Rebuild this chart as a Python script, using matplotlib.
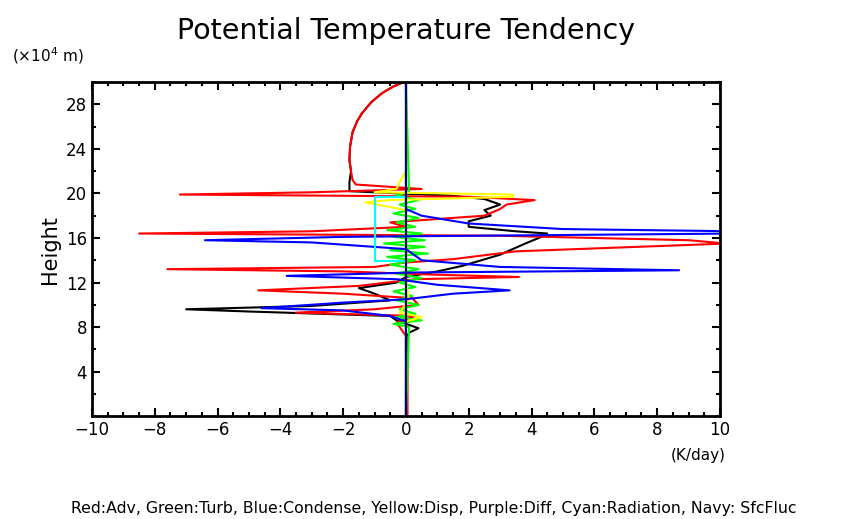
import matplotlib
matplotlib.use("Agg")
import matplotlib.pyplot as plt
from matplotlib.ticker import MultipleLocator

# heights (x10^4 m) and tendencies (K/day)
red_h = [0, 7, 8.4, 9.0, 9.3, 9.6, 10.0, 10.6, 11.0, 11.3, 11.7, 12.3, 12.5, 12.7, 13.0, 13.2, 13.4,
         13.8, 14.1, 14.8, 15.5, 15.8, 16.2, 16.4, 16.6, 17.0, 17.4, 18.0, 18.6, 19.0, 19.4, 19.7,
         19.9, 20.1, 20.4, 20.8, 21.2, 22, 23, 24.2, 25.5, 26.5, 27.2, 28.2, 29, 29.6, 30]
red_x = [0.05, 0.05, -0.3, 0.3, -3.5, -1.0, 0.4, 0.2, -2.0, -4.7, -1.5, 0.3, 3.6, 1.0, -2.0, -7.6,
         -1.0, 0.0, 1.5, 3.5, 10.2, 9.0, 3.0, -8.5, -3.0, 0.0, -0.5, 2.5, 3.0, 3.2, 4.1, 2.0,
         -7.2, -3.0, 0.5, -1.6, -1.7, -1.75, -1.8, -1.78, -1.7, -1.55, -1.4, -1.1, -0.76, -0.4, -0.07]

blue_h = [0, 8.5, 9.0, 9.5, 9.7, 10.2, 10.5, 11.0, 11.3, 11.8, 12.3, 12.6, 12.9, 13.1, 13.4, 14.0,
          15.0, 15.6, 15.8, 16.1, 16.4, 16.6, 16.8, 17.3, 18.0, 18.6, 19.5, 30]
blue_x = [0, 0, -0.5, -2.0, -4.6, -2.0, 0.0, 1.5, 3.3, 1.0, -0.3, -3.8, 0.2, 8.7, 3.0, 0.5,
          0.0, -3.0, -6.4, -2.0, 10.5, 10.5, 5.0, 2.0, 0.5, 0.0, 0.0, 0]

black_h = [0, 7, 7.5, 7.9, 8.2, 8.6, 9.0, 9.4, 9.6, 9.9, 10.4, 11.0, 11.5, 12.0, 12.5, 13.0, 13.5,
           14.5, 15.5, 16.2, 16.4, 16.6, 17.0, 17.5, 18.0, 18.5, 19.0, 19.5, 19.8, 20.2, 21, 22,
           23, 24.2, 25.5, 26.5, 27.2, 28.2, 29, 29.6, 30]
black_x = [0, 0, 0.1, 0.4, 0.1, -0.3, -0.5, -5.0, -7.0, -3.0, -0.5, -1.0, -1.5, -0.3, 0.0, 1.0, 1.8,
           3.0, 3.8, 4.4, 4.5, 3.5, 2.0, 2.0, 2.7, 2.5, 3.0, 2.5, 1.4, -1.8, -1.8, -1.75,
           -1.8, -1.78, -1.7, -1.55, -1.4, -1.1, -0.76, -0.4, -0.07]

yellow_h = [0, 8.5, 8.9, 9.3, 10.5, 12, 18.5, 19.2, 19.4, 19.7, 19.9, 20.1, 20.4, 21, 22, 30]
yellow_x = [0, 0, 0.5, -0.2, 0.1, 0, 0, -1.3, -0.5, 3.4, 3.4, -1.0, -0.3, -0.2, 0, 0]

green_h = [0, 8.0, 8.3, 8.6, 8.9, 9.2, 9.6, 10.0, 10.4, 10.8, 11.2, 11.6, 12.0, 12.4, 12.8, 13.2,
           13.6, 14.0, 14.3, 14.6, 14.9, 15.2, 15.5, 15.8, 16.1, 16.4, 16.7, 17.0, 17.4, 17.8,
           18.2, 18.6, 19.0, 19.4, 19.8, 20.2, 30]
green_x = [0, 0.1, -0.4, 0.5, -0.3, 0.3, -0.2, 0.4, -0.3, 0.2, -0.4, 0.3, -0.2, 0.5, -0.3, 0.4,
           -0.5, 0.3, -0.6, 0.7, -0.5, 0.6, -0.7, 0.6, -0.4, 0.5, -0.6, 0.3, -0.3, 0.4, -0.4,
           0.3, -0.2, 0.4, -0.3, 0.1, 0]

cyan_h = [0, 13.9, 13.9, 19.7, 19.7, 30]
cyan_x = [0, 0, -1.0, -1.0, 0, 0]

purple_h = [0, 30]
purple_x = [0, 0]

navy_h = [0, 30]
navy_x = [0, 0]

fig = plt.figure(figsize=(8.54, 5.19), dpi=100)
ax = fig.add_axes([0.1077, 0.198, 0.7353, 0.644])

ax.plot(black_x, black_h, color="black", lw=1.5)
ax.plot(red_x, red_h, color="red", lw=1.5)
ax.plot(green_x, green_h, color="#00ff00", lw=1.5)
ax.plot(yellow_x, yellow_h, color="yellow", lw=1.5)
ax.plot(blue_x, blue_h, color="blue", lw=1.5)
ax.plot(cyan_x, cyan_h, color="cyan", lw=1.5)
ax.plot(purple_x, purple_h, color="purple", lw=1.5)
ax.plot(navy_x, navy_h, color="navy", lw=1.5)

ax.set_xticks(range(-10, 11, 2))
ax.xaxis.set_minor_locator(MultipleLocator(0.5))
ax.set_yticks([4, 8, 12, 16, 20, 24, 28])
ax.yaxis.set_minor_locator(MultipleLocator(2))
ax.set_xlim(-10, 10)
ax.set_ylim(0, 30)
ax.tick_params(which="both", direction="in", top=True, right=True, width=1.5)
ax.tick_params(which="major", length=6, labelsize=12)
ax.tick_params(which="minor", length=3)
for s in ax.spines.values():
    s.set_linewidth(2)

ax.set_ylabel("Height", fontsize=15)
fig.text(0.475, 0.94, "Potential Temperature Tendency", ha="center", va="center", fontsize=20.5)
fig.text(0.014, 0.893, "(\u00d710$^4$ m)", ha="left", va="center", fontsize=11)
fig.text(0.785, 0.123, "(K/day)", ha="left", va="center", fontsize=11)
fig.text(0.508, 0.021, "Red:Adv, Green:Turb, Blue:Condense, Yellow:Disp, Purple:Diff, Cyan:Radiation, Navy: SfcFluc",
         ha="center", va="center", fontsize=11.3)

fig.savefig("out.png", dpi=100)
